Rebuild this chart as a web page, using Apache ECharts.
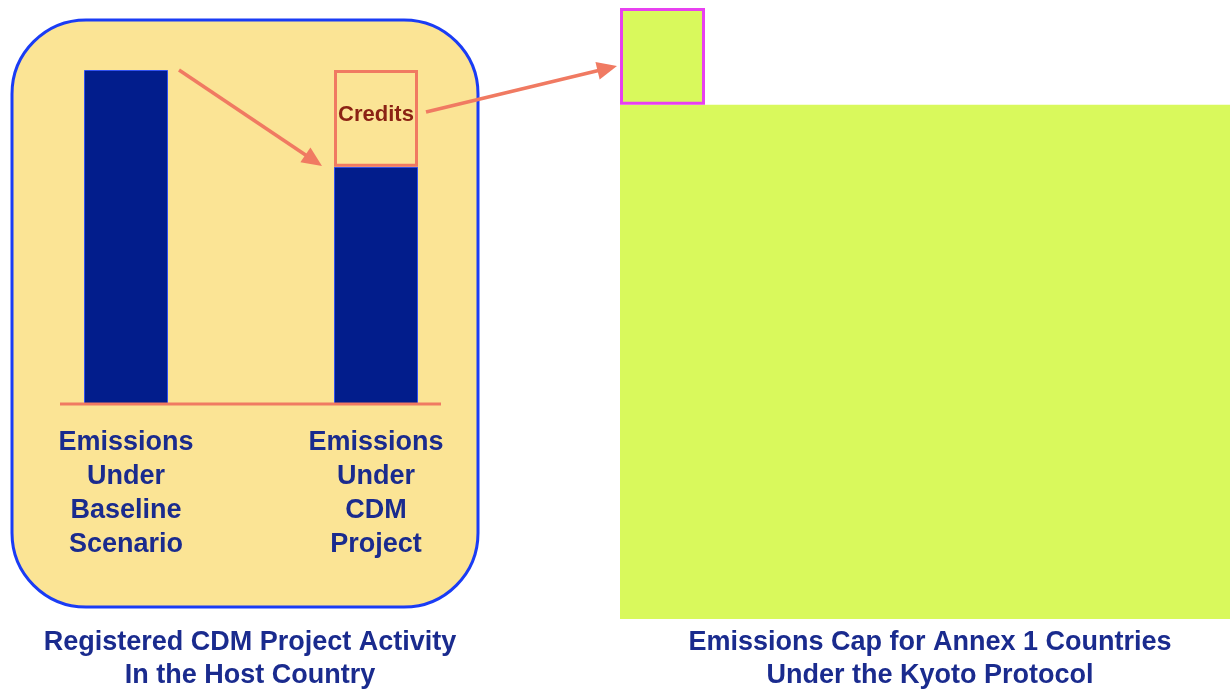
<!DOCTYPE html>
<html>
<head>
<meta charset="utf-8">
<title>CDM credits and the Kyoto emissions cap</title>
<script src="https://cdn.jsdelivr.net/npm/echarts@6/dist/echarts.min.js"></script>
<style>
  html, body { margin: 0; padding: 0; background: #ffffff; }
  #chart { width: 1230px; height: 692px; }
</style>
</head>
<body>
<div id="chart"></div>
<script>
// --- data ---
const projectCategories = ['Emissions\nUnder\nBaseline\nScenario', 'Emissions\nUnder\nCDM\nProject'];
const projectEmissions = [100, 71];
const projectCredits = ['-', 29];
const capCategories = ['Annex 1 cap'];
const capEmissions = [154];
const transferredCredits = [29];

const FONT = '"Liberation Sans", Arial, sans-serif';
const navy = '#1a2b8e';
const barBlue = '#021d8c';
const salmon = '#f07a62';
const green = '#d9f95c';

// arrow = line + triangle head
const arrow = (x1, y1, x2, y2) => {
    const dx = x2 - x1, dy = y2 - y1;
    const len = Math.sqrt(dx * dx + dy * dy);
    const ux = dx / len, uy = dy / len;
    const head = 20, half = 9;
    const bx = x2 - ux * head, by = y2 - uy * head;
    return [
        { type: 'line', z: 50, shape: { x1: x1, y1: y1, x2: bx + ux * 2, y2: by + uy * 2 },
          style: { stroke: salmon, lineWidth: 3.5 } },
        { type: 'polygon', z: 50,
          shape: { points: [[x2, y2], [bx - uy * half, by + ux * half], [bx + uy * half, by - ux * half]] },
          style: { fill: salmon } }
    ];
};

const titleText = (x, y, text) => ({
    type: 'text', z: 50, x: x, y: y,
    style: { text: text, fill: navy, font: 'bold 27px ' + FONT, textAlign: 'center', textVerticalAlign: 'middle' }
});

const chart = echarts.init(document.getElementById('chart'));

chart.setOption({
    backgroundColor: '#ffffff',
    animation: false,
    textStyle: { fontFamily: FONT },
    grid: [
        { left: 1, width: 500, top: 70, bottom: 288 },
        { left: 620, width: 610, top: 8, bottom: 73 },
        { left: 620, width: 85, top: 8, bottom: 73 }
    ],
    xAxis: [
        {
            gridIndex: 0, type: 'category', data: projectCategories,
            axisLine: { show: false }, axisTick: { show: false },
            axisLabel: { color: navy, fontWeight: 'bold', fontSize: 27, lineHeight: 34, margin: 22, interval: 0 }
        },
        { gridIndex: 1, type: 'category', data: capCategories, show: false },
        { gridIndex: 2, type: 'category', data: capCategories, show: false }
    ],
    yAxis: [
        { gridIndex: 0, type: 'value', min: 0, max: 100, show: false },
        { gridIndex: 1, type: 'value', min: 0, max: 183, show: false },
        { gridIndex: 2, type: 'value', min: 0, max: 183, show: false }
    ],
    graphic: [
        { type: 'rect', z: -1, shape: { x: 12, y: 20, width: 466, height: 587, r: 74 },
          style: { fill: '#fbe495', stroke: '#1a3cf5', lineWidth: 3 } },
        { type: 'line', z: 40, shape: { x1: 60, y1: 404, x2: 441, y2: 404 },
          style: { stroke: salmon, lineWidth: 3 } },
        ...arrow(179, 70, 322, 166),
        ...arrow(426, 112, 617, 66),
        titleText(250, 643, 'Registered CDM Project Activity'),
        titleText(250, 676, 'In the Host Country'),
        titleText(930, 643, 'Emissions Cap for Annex 1 Countries'),
        titleText(930, 676, 'Under the Kyoto Protocol')
    ],
    series: [
        {
            name: 'Emissions', type: 'bar', stack: 'project', xAxisIndex: 0, yAxisIndex: 0,
            data: projectEmissions, barWidth: 84,
            itemStyle: { color: barBlue, borderColor: '#3050f0', borderWidth: 1 }
        },
        {
            name: 'Credits', type: 'bar', stack: 'project', xAxisIndex: 0, yAxisIndex: 0,
            data: projectCredits, barWidth: 84,
            itemStyle: { color: 'rgba(0,0,0,0)', borderColor: salmon, borderWidth: 3 },
            label: { show: true, position: 'inside', formatter: 'Credits', color: '#8b2214',
                     fontWeight: 'bold', fontSize: 22, offset: [0, -3] }
        },
        {
            name: 'Emissions cap', type: 'bar', xAxisIndex: 1, yAxisIndex: 1,
            data: capEmissions, barWidth: '100%',
            itemStyle: { color: green }
        },
        {
            name: 'Cap base', type: 'bar', stack: 'transfer', xAxisIndex: 2, yAxisIndex: 2,
            data: capEmissions, barWidth: '100%', silent: true,
            itemStyle: { color: 'rgba(0,0,0,0)' }
        },
        {
            name: 'Transferred credits', type: 'bar', stack: 'transfer', xAxisIndex: 2, yAxisIndex: 2,
            data: transferredCredits, barWidth: '100%',
            itemStyle: { color: green, borderColor: '#e840f0', borderWidth: 3 }
        }
    ]
});
</script>
</body>
</html>
